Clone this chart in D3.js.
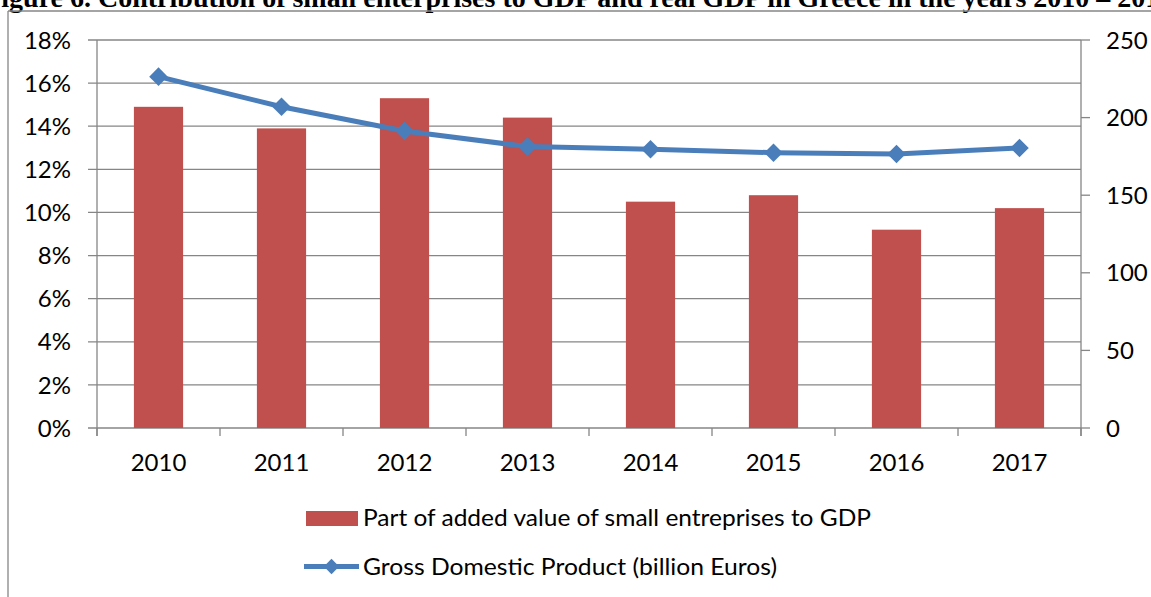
<!DOCTYPE html>
<html>
  <head>
    <meta charset="utf-8">
    <title>Small enterprises and GDP in Greece</title>
    <script src="https://d3js.org/d3.v7.min.js"></script>
    <style>
      html, body { margin: 0; padding: 0; background: #fff; overflow: hidden; }
      text { font-family: Lato, "Open Sans", sans-serif; fill: #000; }
    </style>
  </head>
  <body>
    <div id="chart"></div>
    <script>
      // Chart data
      const years = ["2010", "2011", "2012", "2013", "2014", "2015", "2016", "2017"];
      const sharePct = [14.9, 13.9, 15.3, 14.4, 10.5, 10.8, 9.2, 10.2];
      const gdpBillion = [226.4, 207.0, 191.4, 181.3, 179.6, 177.4, 176.5, 180.4];
      const leftTicks = [0, 2, 4, 6, 8, 10, 12, 14, 16, 18];
      const rightTicks = [0, 50, 100, 150, 200, 250];
      const barLabel = "Part of added value of small entreprises to GDP";
      const lineLabel = "Gross Domestic Product (billion Euros)";
      const titleText = "Figure 6. Contribution of small enterprises to GDP and real GDP in Greece in the years 2010 \u2013 2017";

      const W = 1151, H = 597;
      const plot = {left: 97, right: 1081, top: 40, bottom: 428};
      const gray = "#868686";
      const barColor = "#c0504d";
      const lineColor = "#4a7ebb";
      const fontSize = 24;
      const titleFont = "28px";

      const svg = d3.select("#chart")
        .append("svg")
        .attr("width", W)
        .attr("height", H);

      // Scales
      const x = d3.scaleBand()
        .domain(years)
        .range([plot.left, plot.right])
        .padding(0);
      const yL = d3.scaleLinear()
        .domain([0, 18])
        .range([plot.bottom, plot.top]);
      const yR = d3.scaleLinear()
        .domain([0, 250])
        .range([plot.bottom, plot.top]);

      // Page title (cut off at the top and sides like the scan)
      const title = svg.append("text")
        .attr("y", 7)
        .style("font-family", "'Liberation Serif', 'DejaVu Serif', serif")
        .style("font-weight", "bold")
        .style("font-size", titleFont)
        .text(titleText);
      const probe = svg.append("text")
        .style("font-family", "'Liberation Serif', 'DejaVu Serif', serif")
        .style("font-weight", "bold")
        .style("font-size", titleFont)
        .text("Figure 6.\u00a0");
      const prefixW = probe.node().getComputedTextLength();
      probe.remove();
      title.attr("x", 98 - prefixW);

      // Chart frame
      svg.append("line")
        .attr("x1", 8).attr("x2", W)
        .attr("y1", 11).attr("y2", 11)
        .attr("stroke", gray).attr("stroke-width", 1.3);
      svg.append("line")
        .attr("x1", 8).attr("x2", 8)
        .attr("y1", 11).attr("y2", H)
        .attr("stroke", gray).attr("stroke-width", 1.3);

      // Gridlines
      svg.append("g")
        .selectAll("line")
        .data(leftTicks)
        .join("line")
        .attr("x1", plot.left - 9)
        .attr("x2", plot.right)
        .attr("y1", d => yL(d))
        .attr("y2", d => yL(d))
        .attr("stroke", gray)
        .attr("stroke-width", 1.3);

      // Left axis
      svg.append("line")
        .attr("x1", plot.left).attr("x2", plot.left)
        .attr("y1", plot.top).attr("y2", plot.bottom + 8)
        .attr("stroke", gray).attr("stroke-width", 1.3);
      svg.append("g")
        .selectAll("text")
        .data(leftTicks)
        .join("text")
        .attr("x", 71)
        .attr("y", d => yL(d))
        .attr("dy", "0.36em")
        .attr("text-anchor", "end")
        .style("font-size", fontSize + "px")
        .text(d => d + "%");

      // Right axis
      svg.append("line")
        .attr("x1", plot.right).attr("x2", plot.right)
        .attr("y1", plot.top).attr("y2", plot.bottom + 8)
        .attr("stroke", gray).attr("stroke-width", 1.3);
      svg.append("g")
        .selectAll("line")
        .data(rightTicks)
        .join("line")
        .attr("x1", plot.right)
        .attr("x2", plot.right + 9)
        .attr("y1", d => yR(d))
        .attr("y2", d => yR(d))
        .attr("stroke", gray)
        .attr("stroke-width", 1.3);
      svg.append("g")
        .selectAll("text")
        .data(rightTicks)
        .join("text")
        .attr("x", 1106)
        .attr("y", d => yR(d))
        .attr("dy", "0.36em")
        .style("font-size", fontSize + "px")
        .text(d => d);

      // Category axis ticks at band edges
      const edges = years.map(d => x(d)).concat([plot.right]);
      svg.append("g")
        .selectAll("line")
        .data(edges)
        .join("line")
        .attr("x1", d => d).attr("x2", d => d)
        .attr("y1", plot.bottom).attr("y2", plot.bottom + 8)
        .attr("stroke", gray)
        .attr("stroke-width", 1.3);
      svg.append("g")
        .selectAll("text")
        .data(years)
        .join("text")
        .attr("x", d => x(d) + x.bandwidth() / 2)
        .attr("y", 471)
        .attr("text-anchor", "middle")
        .style("font-size", fontSize + "px")
        .text(d => d);

      // Bars
      const barW = x.bandwidth() * 0.4;
      svg.append("g")
        .selectAll("rect")
        .data(years)
        .join("rect")
        .attr("x", d => x(d) + (x.bandwidth() - barW) / 2)
        .attr("width", barW)
        .attr("y", (d, i) => yL(sharePct[i]))
        .attr("height", (d, i) => plot.bottom - yL(sharePct[i]))
        .attr("fill", barColor);

      // GDP line with diamond markers
      const pts = years.map((d, i) => [x(d) + x.bandwidth() / 2, yR(gdpBillion[i])]);
      svg.append("path")
        .attr("d", d3.line()(pts))
        .attr("fill", "none")
        .attr("stroke", lineColor)
        .attr("stroke-width", 5)
        .attr("stroke-linejoin", "round");
      const diamond = d3.symbol().type(d3.symbolDiamond2).size(220);
      svg.append("g")
        .selectAll("path")
        .data(pts)
        .join("path")
        .attr("transform", d => `translate(${d[0]},${d[1]})`)
        .attr("d", diamond)
        .attr("fill", lineColor);

      // Legend
      svg.append("rect")
        .attr("x", 306).attr("y", 511)
        .attr("width", 52).attr("height", 15)
        .attr("fill", barColor);
      svg.append("text")
        .attr("x", 363)
        .attr("y", 526)
        .attr("textLength", 508)
        .attr("lengthAdjust", "spacingAndGlyphs")
        .style("font-size", fontSize + "px")
        .text(barLabel);
      svg.append("line")
        .attr("x1", 304).attr("x2", 359)
        .attr("y1", 566.5).attr("y2", 566.5)
        .attr("stroke", lineColor)
        .attr("stroke-width", 5);
      svg.append("path")
        .attr("transform", "translate(331.5,566.5)")
        .attr("d", d3.symbol().type(d3.symbolDiamond2).size(150))
        .attr("fill", lineColor);
      svg.append("text")
        .attr("x", 363)
        .attr("y", 575)
        .attr("textLength", 414)
        .attr("lengthAdjust", "spacingAndGlyphs")
        .style("font-size", fontSize + "px")
        .text(lineLabel);
    </script>
  </body>
</html>
